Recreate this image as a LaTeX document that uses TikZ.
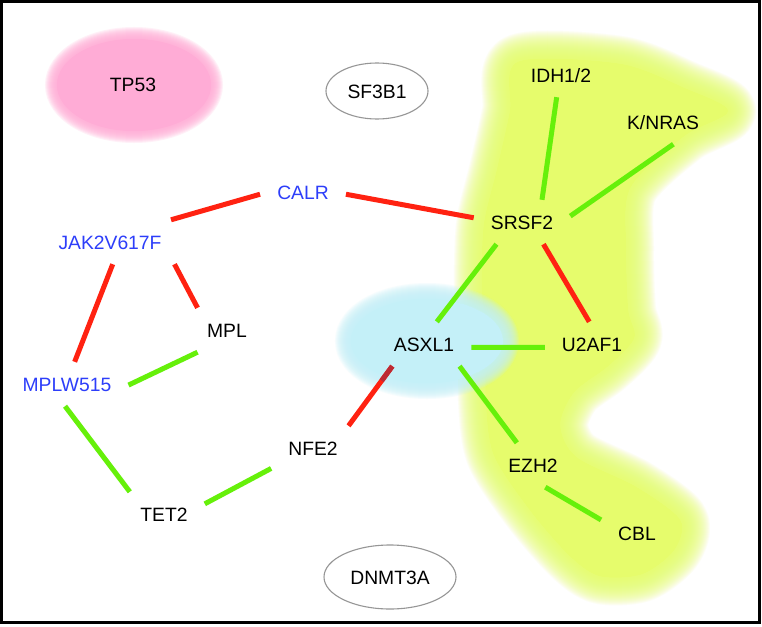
\documentclass[tikz,border=0pt]{standalone}
\usepackage{fontspec}
\setmainfont{Liberation Sans}
\usetikzlibrary{shapes.geometric}
\definecolor{redc}{RGB}{255,34,17}
\definecolor{greenc}{RGB}{102,240,10}
\definecolor{darkredc}{RGB}{188,42,52}
\definecolor{bluet}{RGB}{45,62,250}
\definecolor{pinkc}{RGB}{255,172,214}
\definecolor{cyanc}{RGB}{196,240,248}
\definecolor{yellowc}{RGB}{230,252,108}
\definecolor{grayc}{RGB}{150,150,150}
\newcommand\genefont{\fontsize{19.3}{23}\selectfont}
\begin{document}
\begin{tikzpicture}[x=1pt,y=-1pt,
  gene/.style={font=\genefont, inner xsep=17pt, inner ysep=15pt, text height=14pt, text depth=0pt},
  bluegene/.style={gene, text=bluet},
  oval/.style={gene, ellipse, draw=grayc, line width=1.1pt, inner sep=0pt},
  redl/.style={draw=redc, line width=5pt},
  greenl/.style={draw=greenc, line width=5pt},
  darkl/.style={draw=darkredc, line width=5pt}]
\useasboundingbox (0,0) rectangle (762,626);
\fill[white] (0,0) rectangle (762,626);

% yellow cluster
\path[save path=\ypth] plot[smooth cycle, tension=0.5] coordinates {
  (518,62) (620,64) (684,88) (728,111) (684,136) (630,188) (626,250) (628,310)
  (634,338) (608,366) (574,392) (560,425) (576,457) (636,487) (680,520) (674,550)
  (642,574) (600,576) (570,556) (530,510) (494,455) (486,400) (486,330) (482,290)
  (484,225) (497,170) (510,112)};
\path[use path=\ypth, fill=yellowc];
\foreach \w in {2,4,...,56} {\path[use path=\ypth, draw=yellowc, line width=\w pt, opacity=0.08, line join=round];}

% pink blob
\fill[pinkc] (134,85) ellipse [x radius=77pt, y radius=46pt];
\foreach \w in {2,4,...,24} {\draw[pinkc, line width=\w pt, opacity=0.16] (134,85) ellipse [x radius=77pt, y radius=46pt];}

% cyan blob
\fill[cyanc] (427,341) ellipse [x radius=76pt, y radius=42pt];
\foreach \w in {2,4,...,32} {\draw[cyanc, line width=\w pt, opacity=0.14] (427,341) ellipse [x radius=76pt, y radius=42pt];}

% nodes
\node[gene] (tp53) at (133,84) {TP53};
\node[oval, minimum width=102pt, minimum height=56pt] (sf3b1) at (377,91) {SF3B1};
\node[oval, minimum width=132pt, minimum height=64pt] (dnmt3a) at (390,577) {DNMT3A};
\node[gene] (idh) at (561,75) {IDH1/2};
\node[gene] (knras) at (663,122) {K/NRAS};
\node[bluegene] (calr) at (303,192) {CALR};
\node[gene] (srsf2) at (522,222) {SRSF2};
\node[bluegene] (jak) at (110,242) {JAK2V617F};
\node[gene] (mpl) at (227,330) {MPL};
\node[gene] (asxl1) at (424,344) {ASXL1};
\node[gene] (u2af1) at (592,344) {U2AF1};
\node[bluegene] (mplw) at (67,384) {MPLW515};
\node[gene] (nfe2) at (313,448) {NFE2};
\node[gene] (ezh2) at (533,465) {EZH2};
\node[gene] (tet2) at (164,514) {TET2};
\node[gene] (cbl) at (637,533) {CBL};

% connectors
\draw[redl] (jak.20) -- (calr.183);
\draw[redl] (calr.357) -- (srsf2.175);
\draw[redl] (jak.341) -- (mpl.143);
\draw[redl] (jak.277) -- (mplw.71);
\draw[greenl] (mpl.217) -- (mplw.359);
\draw[greenl] (mplw.265) -- (tet2.147);
\draw[greenl] (tet2.14) -- (nfe2.206);
\draw[redl] (asxl1.215) -- (nfe2.32);
\draw[darkl, shorten >=56pt] (asxl1.215) -- (nfe2.32);
\draw[greenl] (asxl1.60) -- (srsf2.221);
\draw[redl] (srsf2.314) -- (u2af1.97);
\draw[greenl] (asxl1.356) -- (u2af1.184);
\draw[greenl] (asxl1.328) -- (ezh2.126);
\draw[greenl] (ezh2.299) -- (cbl.160);
\draw[greenl] (idh.259) -- (srsf2.48);
\draw[greenl] (knras.295) -- (srsf2.7);

% frame
\draw[line width=2.5pt] (1.5,1.5) rectangle (759.5,622.5);
\end{tikzpicture}
\end{document}
